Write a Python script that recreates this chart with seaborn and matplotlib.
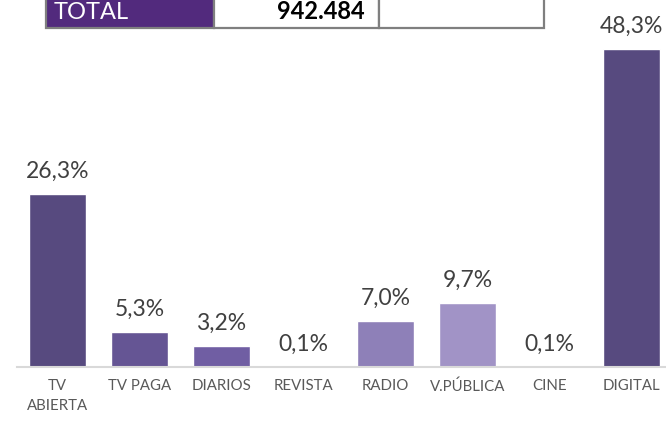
import matplotlib
matplotlib.use("Agg")
import matplotlib.pyplot as plt
import seaborn as sns
import pandas as pd
from matplotlib.patches import Rectangle

# --- datos ---
categories = ["TV\nABIERTA", "TV PAGA", "DIARIOS", "REVISTA", "RADIO", "V.PÚBLICA", "CINE", "DIGITAL"]
shares = [26.3, 5.3, 3.2, 0.1, 7.0, 9.7, 0.1, 48.3]
bar_colors = ["#574a7f", "#655594", "#705ea3", "#7a68ad", "#8e80b8", "#a193c6", "#a193c6", "#574a7f"]
total_label = "TOTAL"
total_value = "942.484"

df = pd.DataFrame({"medio": categories, "share": shares})

sns.set_style("white")
plt.rcParams["font.family"] = ["Lato", "DejaVu Sans"]

W, H = 666, 422
fig = plt.figure(figsize=(W / 100, H / 100), dpi=100)

# ejes: cat 0 centrado en x=57.5 px, paso 82 px; base en y=367 px, 6.58 px por punto
step = 82.0
left_px = 57.5 - 0.5 * step
ppu = 6.58
ymax = 56
ax = fig.add_axes([left_px / W, (H - 367) / H, 8 * step / W, ymax * ppu / H])

sns.barplot(data=df, x="medio", y="share", hue="medio", palette=bar_colors,
            legend=False, width=0.7, saturation=1, ax=ax)
ax.set_xlim(-0.5, 7.5)
ax.set_ylim(0, ymax)

for i, v in enumerate(shares):
    ax.annotate(f"{v:.1f}%".replace(".", ","), (i, v), xytext=(0, 11.5),
                textcoords="offset points", ha="center", va="baseline",
                fontsize=16.5, color="#404040")

ax.set_xlabel("")
ax.set_ylabel("")
ax.set_yticks([])
ax.tick_params(axis="x", length=0, pad=9, labelsize=10.8, labelcolor="#595959")
for s in ["top", "left", "right"]:
    ax.spines[s].set_visible(False)
ax.spines["bottom"].set_color("#d9d9d9")
ax.spines["bottom"].set_linewidth(1.5)
for lbl in ax.get_xticklabels():
    lbl.set_va("top")
    lbl.set_linespacing(1.5)

# --- tabla recortada arriba ---
def px_rect(x0, x1, y0, y1, fc):
    fig.add_artist(Rectangle((x0 / W, 1 - y1 / H), (x1 - x0) / W, (y1 - y0) / H,
                             transform=fig.transFigure, facecolor=fc,
                             edgecolor="#7f7f7f", linewidth=1.6))

px_rect(46, 214, -5, 28, "#522a7d")
px_rect(214, 379, -5, 28, "white")
px_rect(379, 544, -5, 28, "white")
fig.text(54 / W, 1 - 19 / H, total_label, color="white", fontsize=17, va="baseline", ha="left")
fig.text(365 / W, 1 - 19 / H, total_value, color="black", fontsize=17, fontweight="bold",
         va="baseline", ha="right")

fig.savefig("out.png", dpi=100)
